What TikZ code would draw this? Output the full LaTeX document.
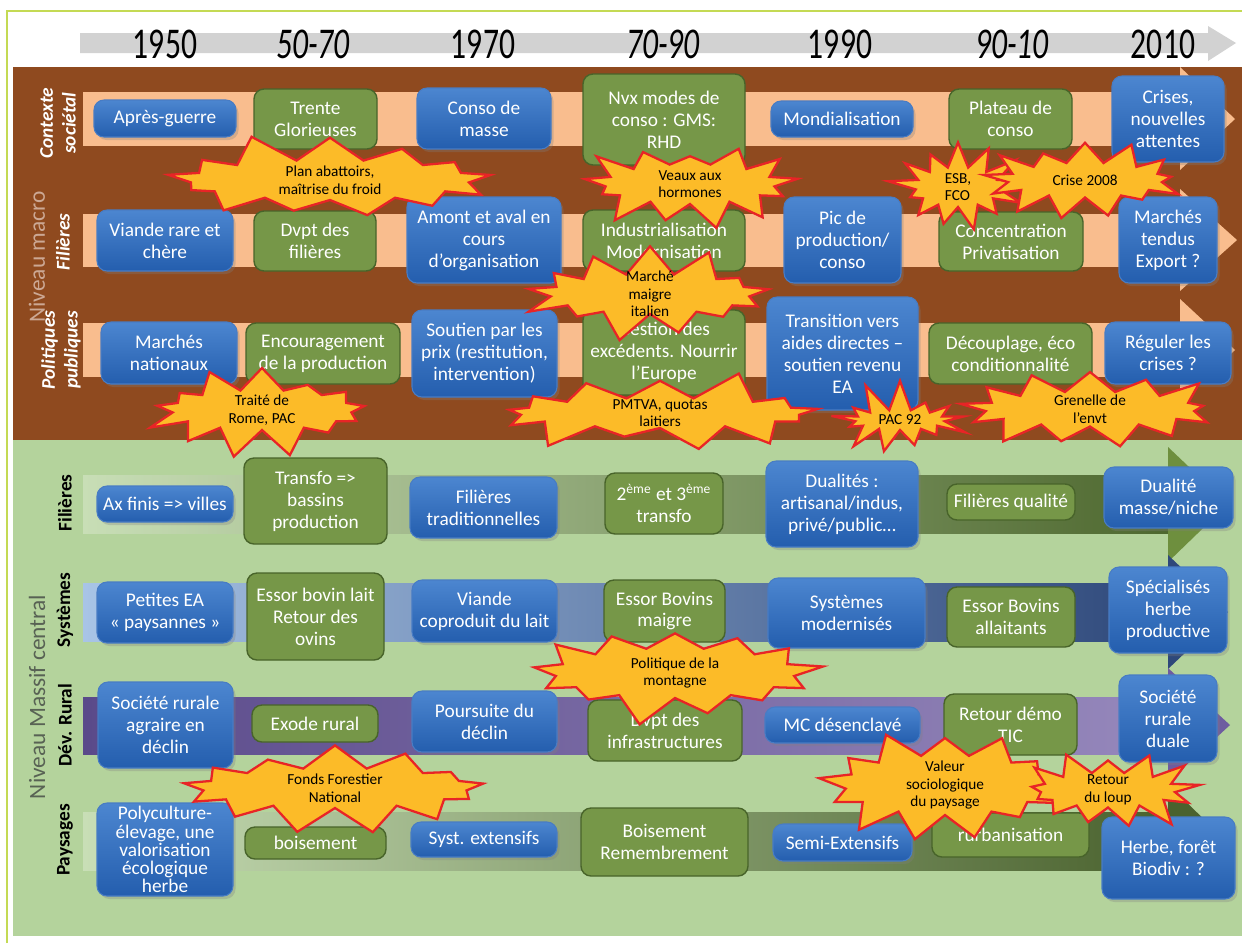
\documentclass[tikz,border=0pt]{standalone}
\usepackage{fontspec}
\setmainfont{Carlito}
\newfontfamily\yearfont[FakeStretch=0.72]{Carlito}
\usetikzlibrary{shapes.symbols,shadows}

\definecolor{brownbg}{RGB}{143,74,31}
\definecolor{greenbg}{RGB}{180,211,156}
\definecolor{salmon}{RGB}{249,189,142}
\definecolor{axisgray}{RGB}{210,210,210}
\definecolor{frameline}{RGB}{196,218,84}
\definecolor{bluetop}{RGB}{76,134,208}
\definecolor{bluebot}{RGB}{36,94,174}
\definecolor{blueline}{RGB}{72,124,196}
\definecolor{boxgreen}{RGB}{118,151,72}
\definecolor{greenline}{RGB}{72,100,42}
\definecolor{boomfill}{RGB}{252,187,40}
\definecolor{boomline}{RGB}{232,36,38}
\definecolor{macrotext}{RGB}{204,168,148}
\definecolor{mctext}{RGB}{88,98,84}
\definecolor{palegreen}{RGB}{200,222,182}
\definecolor{darkgreen}{RGB}{78,104,47}
\definecolor{headgreen}{RGB}{110,143,62}
\definecolor{paleblue}{RGB}{168,196,230}
\definecolor{navy}{RGB}{46,72,122}
\definecolor{purple1}{RGB}{90,74,138}
\definecolor{lavender}{RGB}{196,188,220}
\definecolor{purple2}{RGB}{150,136,188}
\definecolor{headpurple}{RGB}{110,92,160}
\definecolor{olive}{RGB}{74,98,46}

\begin{document}
\begin{tikzpicture}[x=0.2mm, y=-0.2mm,
  bluebox/.style={draw=blueline, line width=0.6pt, rounded corners=2mm,
    top color=bluetop, bottom color=bluebot, text=white, align=center,
    inner sep=0pt, font=\fontsize{11}{12.5}\selectfont,
    drop shadow={shadow xshift=0.5mm, shadow yshift=-0.6mm, opacity=0.3}},
  greenbox/.style={draw=greenline, line width=0.8pt, rounded corners=2mm,
    fill=boxgreen, text=white, align=center, inner sep=0pt,
    font=\fontsize{11}{12.5}\selectfont},
  boom/.style={starburst, starburst points=13, starburst point height=6mm,
    draw=boomline, fill=boomfill, line width=1.3pt, inner sep=0pt},
  boomtext/.style={align=center, text=black, font=\fontsize{8.7}{10}\selectfont},
  year/.style={font=\yearfont\fontsize{25}{25}\selectfont},
  yearit/.style={font=\yearfont\itshape\fontsize{25}{25}\selectfont},
  toplab/.style={rotate=90, align=center, text=white,
    font=\bfseries\itshape\fontsize{11}{13}\selectfont},
  botlab/.style={rotate=90, align=center, text=black,
    font=\bfseries\fontsize{11}{13}\selectfont},
  niveau/.style={rotate=90, font=\fontsize{13.3}{15}\selectfont}]
\useasboundingbox (0,0) rectangle (1242,943);
% Frame and time axis
\draw[frameline, line width=1pt] (7,943) -- (7,11) -- (1242,11);
\fill[axisgray] (80,33) -- (1208,33) -- (1208,26) -- (1236,43) -- (1208,61)
  -- (1208,53) -- (80,53) -- cycle;
\node[year] (y1950) at (165,44) {1950};
\node[yearit] (y5070) at (313,44) {50-70};
\node[year] (y1970) at (483,44) {1970};
\node[yearit] (y7090) at (663,44) {70-90};
\node[year] (y1990) at (840,44) {1990};
\node[yearit] (y9010) at (1012,44) {90-10};
\node[year] (y2010) at (1163,44) {2010};
% Backgrounds
\fill[brownbg] (13,67) rectangle (1242,440);
\fill[greenbg] (13,440) rectangle (1242,936);
% Bands, niveau macro
\fill[salmon] (83,92) rectangle (1180,146);
\fill[salmon] (1180,67) -- (1235,119) -- (1180,170) -- cycle;
\fill[salmon] (83,214) rectangle (1180,267);
\fill[salmon] (1180,189) -- (1237,240) -- (1180,291) -- cycle;
\fill[salmon] (83,323) rectangle (1180,377);
\fill[salmon] (1180,299) -- (1235,350) -- (1180,401) -- cycle;
% Bands, niveau Massif central
\shade[left color=palegreen, middle color=darkgreen, right color=darkgreen]
  (83,475) rectangle (1168,533);
\fill[headgreen] (1168,447) -- (1228,504) -- (1168,562) -- cycle;
\shade[left color=paleblue, middle color=navy, right color=navy]
  (83,583) rectangle (1168,641);
\fill[navy] (1168,555) -- (1228,612) -- (1168,669) -- cycle;
\shade[left color=purple1, middle color=lavender, right color=purple2]
  (83,697) rectangle (1168,754);
\fill[headpurple] (1168,668) -- (1230,725) -- (1168,782) -- cycle;
\shade[left color=palegreen, middle color=olive, right color=olive]
  (83,812) rectangle (1168,870);
\fill[olive] (1168,784) -- (1226,841) -- (1168,898) -- cycle;
% Row labels
\node[niveau, text=macrotext] (lmacro) at (37,257) {Niveau macro};
\node[toplab] (lcs) at (58,123) {Contexte\\sociétal};
\node[toplab] (lfm) at (63,242) {Filières};
\node[toplab] (lpp) at (61,350) {Politiques\\publiques};
\node[niveau, text=mctext] (lmc) at (37,697) {Niveau Massif central};
\node[botlab] (lfi) at (65,503) {Filières};
\node[botlab] (lsy) at (65,610) {Systèmes};
\node[botlab] (ldr) at (65,725) {Dév. Rural};
\node[botlab] (lpa) at (65,840) {Paysages};
% Contexte societal
\node[bluebox, minimum width=28.4mm, minimum height=7.4mm] (cs1) at (165,118.5) {Après-guerre};
\node[greenbox, minimum width=24.6mm, minimum height=12mm] (cs2) at (315.5,119) {Trente\\Glorieuses};
\node[bluebox, minimum width=26.8mm, minimum height=12.2mm] (cs3) at (484,118.5) {Conso de\\masse};
\node[greenbox, minimum width=32.4mm, minimum height=18.2mm] (cs4) at (664,119.5) {Nvx modes de\\conso : GMS:\\RHD};
\node[bluebox, minimum width=28.4mm, minimum height=7.2mm] (cs5) at (842,119) {Mondialisation};
\node[greenbox, minimum width=24.6mm, minimum height=12mm] (cs6) at (1010.5,119) {Plateau de\\conso};
\node[bluebox, minimum width=22.4mm, minimum height=17.2mm] (cs7) at (1168,119) {Crises,\\nouvelles\\attentes};
% Filieres (macro)
\node[bluebox, minimum width=27.2mm, minimum height=12.2mm] (fm1) at (165,240.5) {Viande rare et\\chère};
\node[greenbox, minimum width=24.4mm, minimum height=12mm] (fm2) at (315,241) {Dvpt des\\filières};
\node[bluebox, minimum width=30.8mm, minimum height=17.2mm] (fm3) at (484,240) {Amont et aval en\\cours\\d’organisation};
\node[greenbox, minimum width=32.4mm, minimum height=12.2mm] (fm4) at (664,240.5) {Industrialisation\\Modernisation};
\node[bluebox, minimum width=23.4mm, minimum height=17.2mm] (fm5) at (842.5,240) {Pic de\\production/\\conso};
\node[greenbox, minimum width=28.8mm, minimum height=11.8mm] (fm6) at (1011,241.5) {Concentration\\Privatisation};
\node[bluebox, minimum width=19.6mm, minimum height=17.2mm] (fm7) at (1168,240) {Marchés\\tendus\\Export ?};
% Politiques publiques
\node[bluebox, minimum width=27.2mm, minimum height=12.4mm] (pp1) at (169,353) {Marchés\\nationaux};
\node[greenbox, minimum width=30.8mm, minimum height=12.2mm] (pp2) at (323,353.5) {Encouragement\\de la production};
\node[bluebox, minimum width=29mm, minimum height=17.4mm] (pp3) at (484.5,353.5) {Soutien par les\\prix (restitution,\\intervention)};
\node[greenbox, minimum width=32.4mm, minimum height=17mm] (pp4) at (664,352.5) {Gestion des\\excédents. Nourrir\\l’Europe};
\node[bluebox, minimum width=30.2mm, minimum height=22.6mm] (pp5) at (842.5,353.5) {Transition vers\\aides directes –\\soutien revenu\\EA};
\node[greenbox, minimum width=32.6mm, minimum height=12.2mm] (pp6) at (1010.5,353.5) {Découplage, éco\\conditionnalité};
\node[bluebox, minimum width=25.2mm, minimum height=12.4mm] (pp7) at (1168,353) {Réguler les\\crises ?};
% Filieres (Massif central)
\node[bluebox, minimum width=27.2mm, minimum height=7.2mm] (fi1) at (165,504) {Ax finis => villes};
\node[greenbox, minimum width=28.6mm, minimum height=17.2mm] (fi2) at (315.5,501) {Transfo =>\\bassins\\production};
\node[bluebox, minimum width=29.4mm, minimum height=12.2mm] (fi3) at (483.5,507.5) {Filières\\traditionnelles};
\node[greenbox, minimum width=23.6mm, minimum height=12.2mm] (fi4) at (664,503.5) {2\textsuperscript{ème} et 3\textsuperscript{ème}\\transfo};
\node[bluebox, minimum width=30.4mm, minimum height=17.2mm] (fi5) at (842,504) {Dualités :\\artisanal/indus,\\privé/public…};
\node[greenbox, minimum width=25.6mm, minimum height=7.2mm] (fi6) at (1011,502) {Filières qualité};
\node[bluebox, minimum width=25.8mm, minimum height=12.2mm] (fi7) at (1168.5,497.5) {Dualité\\masse/niche};
% Systemes
\node[bluebox, minimum width=27.2mm, minimum height=12.2mm] (sy1) at (165,612.5) {Petites EA\\« paysannes »};
\node[greenbox, minimum width=27.4mm, minimum height=17.4mm] (sy2) at (315.5,616.5) {Essor bovin lait\\Retour des\\ovins};
\node[bluebox, minimum width=29mm, minimum height=12.4mm] (sy3) at (484.5,611) {Viande\\coproduit du lait};
\node[greenbox, minimum width=24.2mm, minimum height=12.4mm] (sy4) at (664.5,611) {Essor Bovins\\maigre};
\node[bluebox, minimum width=31.4mm, minimum height=14mm] (sy5) at (846.5,613) {Systèmes\\modernisés};
\node[greenbox, minimum width=25.6mm, minimum height=12mm] (sy6) at (1011,617) {Essor Bovins\\allaitants};
\node[bluebox, minimum width=23.6mm, minimum height=17.2mm] (sy7) at (1168,610) {Spécialisés\\herbe\\productive};
% Dev. rural
\node[bluebox, minimum width=27mm, minimum height=17.2mm] (dr1) at (165.5,725) {Société rurale\\agraire en\\déclin};
\node[greenbox, minimum width=25.2mm, minimum height=7.4mm] (dr2) at (315,723.5) {Exode rural};
\node[bluebox, minimum width=29mm, minimum height=12.2mm] (dr3) at (484.5,721.5) {Poursuite du\\déclin};
\node[greenbox, minimum width=30.8mm, minimum height=12.2mm] (dr4) at (665,730.5) {Dvpt des\\infrastructures};
\node[bluebox, minimum width=31mm, minimum height=7.2mm] (dr5) at (842.5,725) {MC désenclavé};
\node[greenbox, minimum width=26.6mm, minimum height=12.2mm] (dr6) at (1010.5,724.5) {Retour démo\\TIC};
\node[bluebox, minimum width=19.6mm, minimum height=17.4mm] (dr7) at (1168,718.5) {Société\\rurale\\duale};
% Paysages
\node[bluebox, minimum width=27.2mm, minimum height=18.6mm, font=\fontsize{11}{10.3}\selectfont] (pa1)
  at (165,849.5) {Polyculture-\\élevage, une\\valorisation\\écologique\\herbe};
\node[greenbox, minimum width=28.2mm, minimum height=6.4mm] (pa2) at (315.5,843) {boisement};
\node[bluebox, minimum width=29.2mm, minimum height=7mm] (pa3) at (484,839.5) {Syst. extensifs};
\node[greenbox, minimum width=33.4mm, minimum height=13.6mm] (pa4) at (664.5,842) {Boisement\\Remembrement};
\node[bluebox, minimum width=27.8mm, minimum height=7.4mm] (pa5) at (842.5,842.5) {Semi-Extensifs};
\node[greenbox, minimum width=31.4mm, minimum height=8.8mm] (pa6) at (1010.5,835) {rurbanisation};
\node[bluebox, minimum width=26.6mm, minimum height=16.4mm] (pa7) at (1168.5,858) {Herbe, forêt\\Biodiv : ?};
% Events
\node[boom, random starburst=11, minimum width=68mm, minimum height=20mm,
  label={[boomtext]center:{Plan abattoirs,\\maîtrise du froid}}] (abat) at (330,180) {};
\node[boom, random starburst=23, minimum width=46mm, minimum height=20mm,
  label={[boomtext]center:{Veaux aux\\hormones}}] (horm) at (690,184) {};
\node[boom, random starburst=37, minimum width=29mm, minimum height=20mm,
  label={[boomtext, align=left]center:{ESB,\\FCO}}] (esb) at (958,187) {};
\node[boom, random starburst=41, minimum width=43mm, minimum height=19mm,
  label={[boomtext]center:{Crise 2008}}] (crise) at (1085,180) {};
\node[boom, random starburst=53, minimum width=52mm, minimum height=20mm,
  label={[boomtext]center:{Marché\\maigre\\italien}}] (maigre) at (650,294) {};
\node[boom, random starburst=67, minimum width=48mm, minimum height=20mm,
  label={[boomtext]center:{Traité de\\Rome, PAC}}] (rome) at (262,410) {};
\node[boom, random starburst=71, minimum width=68mm, minimum height=18mm,
  label={[boomtext]center:{PMTVA, quotas\\laitiers}}] (pmtva) at (660,413) {};
\node[boom, random starburst=89, minimum width=30mm, minimum height=16mm,
  label={[boomtext]center:{PAC 92}}] (pac) at (900,420) {};
\node[boom, random starburst=97, minimum width=54mm, minimum height=19mm,
  label={[boomtext]center:{Grenelle de\\l’envt}}] (gren) at (1090,409) {};
\node[boom, random starburst=101, minimum width=60mm, minimum height=22mm,
  label={[boomtext]center:{Politique de la\\montagne}}] (mont) at (675,673) {};
\node[boom, random starburst=113, minimum width=65mm, minimum height=20mm,
  label={[boomtext]center:{Fonds Forestier\\National}}] (ffn) at (335,788) {};
\node[boom, random starburst=127, minimum width=52mm, minimum height=24mm,
  label={[boomtext]center:{Valeur\\sociologique\\du paysage}}] (val) at (945,785) {};
\node[boom, random starburst=131, minimum width=39mm, minimum height=19mm,
  label={[boomtext]center:{Retour\\du loup}}] (loup) at (1108,790) {};
\end{tikzpicture}
\end{document}
